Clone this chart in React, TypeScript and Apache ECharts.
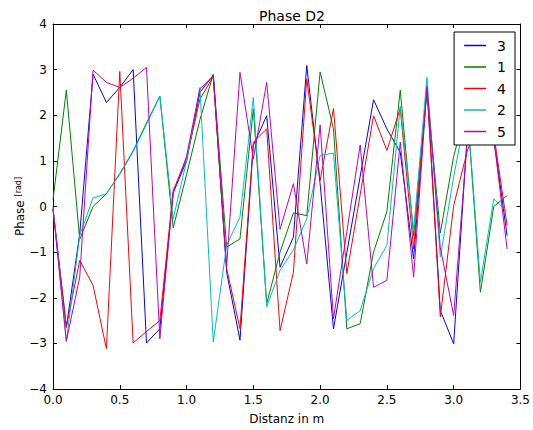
import React, { useEffect, useRef } from "react";
import * as echarts from "echarts";

const xs = [0, 0.1, 0.2, 0.3, 0.4, 0.5, 0.6, 0.7, 0.8, 0.9, 1.0, 1.1, 1.2, 1.3, 1.4, 1.5, 1.6, 1.7, 1.8, 1.9, 2.0, 2.1, 2.2, 2.3, 2.4, 2.5, 2.6, 2.7, 2.8, 2.9, 3.0, 3.1, 3.2, 3.3, 3.4];

const s3 = [-0.05, -2.65, -0.6, 2.9, 2.28, 2.61, 3.0, -2.99, -2.68, 0.3, 1.0, 2.5, 2.88, -1.44, -2.93, 1.34, 1.99, -1.33, -0.67, 3.09, 0.5, -2.68, -1.01, 0.66, 2.34, 1.7, 1.19, -1.15, 2.65, -2.28, -3.01, 1.5, 2.0, 1.5, -0.64];
const s1 = [0.15, 2.55, -0.72, 0.0, 0.28, 0.72, 1.22, 1.83, 2.42, -0.47, 0.7, 1.9, 2.9, -0.89, -0.71, 2.14, -2.13, -1.0, -0.14, -0.2, 2.95, 1.7, -2.68, -2.57, -1.0, -0.11, 2.55, -0.64, 2.55, -0.58, 1.1, 2.2, -1.88, 0.0, 0.24];
const s4 = [-0.05, -2.64, -1.18, -1.73, -3.12, 2.96, -2.99, -2.74, -2.5, 0.35, 1.05, 2.35, 2.85, -1.36, -2.68, 1.41, 1.7, -2.72, -1.44, 2.8, 0.57, 2.15, -1.47, 0.26, 1.99, 1.23, 2.15, -0.93, 2.61, -2.42, 0.02, 1.2, 2.0, 1.6, -0.42];
const s2 = [0.0, -2.96, -0.64, 0.19, 0.28, 0.7, 1.2, 1.8, 2.42, -0.27, 1.0, 2.61, -2.97, -0.85, -0.23, 2.39, -2.2, -1.4, -0.95, -0.27, 1.12, 1.17, -2.5, -2.28, -1.36, -0.85, 2.2, -0.53, 2.83, -1.11, 0.65, 2.2, -1.66, 0.17, -0.11];
const s5 = [-0.05, -2.95, -1.55, 2.99, 2.72, 2.61, 2.81, 3.05, -2.9, 0.3, 1.1, 2.58, 2.85, -1.3, 2.94, 1.04, 2.72, -0.5, 0.5, -1.26, 1.79, -2.46, -0.55, 1.35, -1.77, -1.62, 1.41, -1.55, 2.61, -0.9, -2.39, 1.4, 2.2, 1.5, -0.93];

const seriesNames = ["3", "1", "4", "2", "5"];
const seriesValues = [s3, s1, s4, s2, s5];
const seriesColors = ["#0000ff", "#008000", "#ff0000", "#00bfbf", "#bf00bf"];

const xTicks = [0, 0.5, 1.0, 1.5, 2.0, 2.5, 3.0, 3.5];
const yTicks = [-4, -3, -2, -1, 0, 1, 2, 3, 4];

const FONT = "DejaVu Sans";

export default function App() {
  const ref = useRef<HTMLDivElement>(null);
  useEffect(() => {
    document.body.style.margin = "0";
    if (!ref.current) return;
    const chart = echarts.init(ref.current, undefined, { renderer: "svg" });
    const axisLine = { show: true, onZero: false, lineStyle: { color: "#000", width: 1 } };
    const tick = { show: true, inside: true, length: 4, lineStyle: { color: "#000" } };
    const option: any = {
      animation: false,
      backgroundColor: "#fff",
      title: {
        text: "Phase D2",
        left: 287,
        top: 4,
        textAlign: "center",
        textStyle: { fontFamily: FONT, fontSize: 14, fontWeight: "normal", color: "#000" },
      },
      legend: {
        data: seriesNames,
        orient: "vertical",
        right: 18,
        top: 32,
        z: 50,
        icon: "rect",
        itemWidth: 22,
        itemHeight: 1.5,
        itemGap: 5.5,
        padding: [5.5, 9, 5.5, 10],
        borderColor: "#000",
        borderWidth: 1,
        backgroundColor: "#fff",
        textStyle: { fontFamily: FONT, fontSize: 14, color: "#000", lineHeight: 16, padding: [0, 0, 0, 6] },
      },
      grid: { left: 53, right: 11, top: 24, bottom: 40 },
      xAxis: [
        {
          type: "value",
          min: 0,
          max: 3.5,
          interval: 0.5,
          position: "bottom",
          axisLine,
          axisTick: tick,
          splitLine: { show: false },
          axisLabel: {
            fontFamily: FONT,
            fontSize: 12,
            color: "#000",
            margin: 5,
            formatter: (v: number) => (xTicks.includes(v) ? v.toFixed(1) : ""),
          },
          name: "Distanz in m",
          nameLocation: "middle",
          nameGap: 24,
          nameTextStyle: { fontFamily: FONT, fontSize: 12, color: "#000" },
        },
        {
          type: "value",
          min: 0,
          max: 3.5,
          interval: 0.5,
          position: "top",
          axisLine,
          axisTick: tick,
          splitLine: { show: false },
          axisLabel: { show: false },
        },
      ],
      yAxis: [
        {
          type: "value",
          min: -4,
          max: 4,
          interval: 1,
          position: "left",
          axisLine,
          axisTick: tick,
          splitLine: { show: false },
          axisLabel: {
            fontFamily: FONT,
            fontSize: 12,
            color: "#000",
            margin: 6,
            formatter: (v: number) => (yTicks.includes(v) ? String(v).replace("-", "\u2212") : ""),
          },
          name: "Phase {s|[rad]}",
          nameLocation: "middle",
          nameRotate: 90,
          nameGap: 27,
          nameMoveOverlap: false,
          nameTextStyle: {
            fontFamily: FONT,
            fontSize: 12,
            color: "#000",
            rich: { s: { fontFamily: FONT, fontSize: 8, color: "#000", padding: [0, 0, 4, 0] } },
          },
        },
        {
          type: "value",
          min: -4,
          max: 4,
          interval: 1,
          position: "right",
          axisLine,
          axisTick: tick,
          splitLine: { show: false },
          axisLabel: { show: false },
        },
      ],
      series: seriesNames.map((name, i) => ({
        name,
        type: "line",
        data: xs.map((x, j) => [x, seriesValues[i][j]]),
        showSymbol: false,
        symbol: "none",
        color: seriesColors[i],
        lineStyle: { width: 1, color: seriesColors[i] },
        z: 2,
      })),
    };
    chart.setOption(option);
    return () => chart.dispose();
  }, []);
  return <div ref={ref} style={{ width: 533, height: 430 }} />;
}
